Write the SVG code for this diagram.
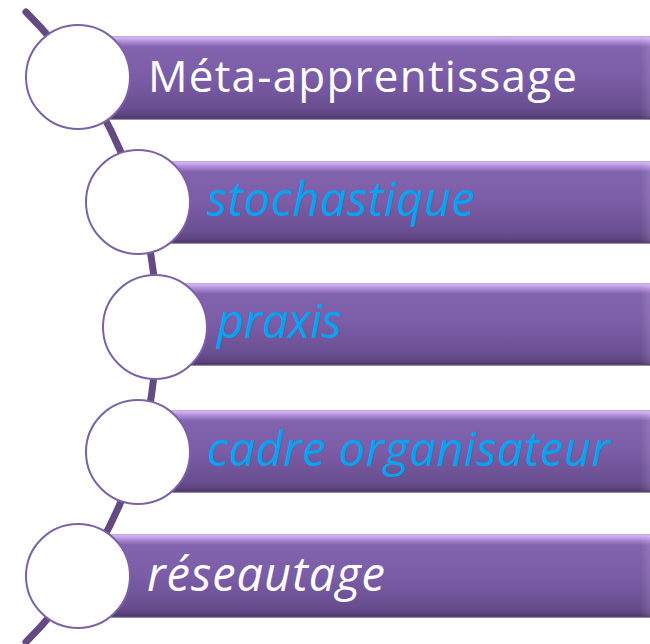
<svg xmlns="http://www.w3.org/2000/svg" width="650" height="644" viewBox="0 0 650 644">
  <defs>
    <linearGradient id="barGrad" x1="0" y1="0" x2="0" y2="1">
      <stop offset="0" stop-color="#b9a6cf"/>
      <stop offset="0.02" stop-color="#d2b3f5"/>
      <stop offset="0.07" stop-color="#ab89d5"/>
      <stop offset="0.13" stop-color="#8263ae"/>
      <stop offset="0.5" stop-color="#7b5ca6"/>
      <stop offset="0.86" stop-color="#694e90"/>
      <stop offset="0.94" stop-color="#5d4480"/>
      <stop offset="0.98" stop-color="#4c3866"/>
      <stop offset="1" stop-color="#b9b0c4"/>
    </linearGradient>
    <linearGradient id="bevel" x1="0" y1="0" x2="1" y2="0">
      <stop offset="0" stop-color="#ffffff" stop-opacity="0"/>
      <stop offset="1" stop-color="#ffffff" stop-opacity="0.12"/>
    </linearGradient>
  </defs>
  <style>
    .bar { fill: url(#barGrad); }
    .bev { fill: url(#bevel); }
    .node circle { fill: #ffffff; stroke: #7b62a3; stroke-width: 2; }
    .arc { fill: none; stroke: #634a82; stroke-width: 7; stroke-linecap: round; }
    .lbl { font-family: "Open Sans", "DejaVu Sans", sans-serif; font-size: 44px; }
    .white { fill: #ffffff; }
    .blue { fill: #00a4f2; font-style: italic; font-size: 47px; }
    .wi { fill: #ffffff; font-style: italic; font-size: 47px; }
  </style>
  <rect width="650" height="644" fill="#ffffff"/>
  <g id="connectors">
    <path class="arc" d="M26,12 A445,445 0 0 1 26,642"/>
  </g>
  <g id="node1" class="node">
    <rect class="bar" x="78" y="36" width="572" height="84"/>
    <rect class="bev" x="640" y="38" width="10" height="80"/>
    <circle cx="78" cy="77" r="52"/>
    <text class="lbl white" x="148" y="92" textLength="429">Méta-apprentissage</text>
  </g>
  <g id="node2" class="node">
    <rect class="bar" x="138" y="161" width="512" height="83"/>
    <rect class="bev" x="640" y="163" width="10" height="79"/>
    <circle cx="138" cy="202" r="52"/>
    <text class="lbl blue" x="207" y="216" textLength="268">stochastique</text>
  </g>
  <g id="node3" class="node">
    <rect class="bar" x="154" y="283" width="496" height="83"/>
    <rect class="bev" x="640" y="285" width="10" height="79"/>
    <circle cx="155" cy="327" r="52"/>
    <text class="lbl blue" x="217" y="338" textLength="125">praxis</text>
  </g>
  <g id="node4" class="node">
    <rect class="bar" x="138" y="410" width="512" height="83"/>
    <rect class="bev" x="640" y="412" width="10" height="79"/>
    <circle cx="138" cy="452" r="52"/>
    <text class="lbl blue" x="207" y="466" textLength="403">cadre organisateur</text>
  </g>
  <g id="node5" class="node">
    <rect class="bar" x="78" y="534" width="572" height="84"/>
    <rect class="bev" x="640" y="536" width="10" height="80"/>
    <circle cx="78" cy="576" r="52"/>
    <text class="lbl wi" x="147" y="591" textLength="238">réseautage</text>
  </g>
</svg>
